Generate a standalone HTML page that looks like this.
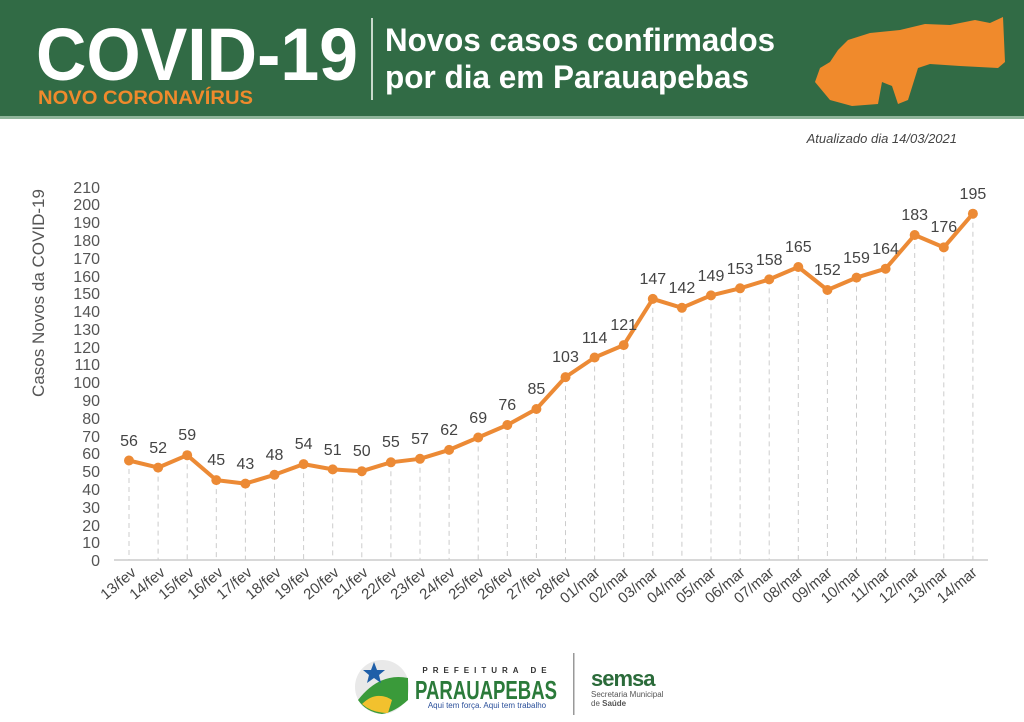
<!DOCTYPE html>
<html><head><meta charset="utf-8"><style>
html,body{margin:0;padding:0;background:#fff;width:1024px;height:722px;overflow:hidden;font-family:"Liberation Sans",sans-serif}
</style></head><body>
<svg width="1024" height="722" viewBox="0 0 1024 722" xmlns="http://www.w3.org/2000/svg" font-family="Liberation Sans, sans-serif">
<rect x="0" y="0" width="1024" height="118" fill="#316b45"/>
<rect x="0" y="116" width="1024" height="3" fill="#8fb59a"/>
<text x="36" y="80" font-size="74" font-weight="bold" fill="#fff" textLength="322" lengthAdjust="spacingAndGlyphs">COVID-19</text>
<text x="38" y="104" font-size="19" font-weight="bold" fill="#f08a2c" textLength="215" lengthAdjust="spacingAndGlyphs">NOVO CORONAVÍRUS</text>
<rect x="371" y="18" width="2" height="82" fill="#c9d9cc"/>
<text x="385" y="51" font-size="32" font-weight="bold" fill="#fff" textLength="390" lengthAdjust="spacingAndGlyphs">Novos casos confirmados</text>
<text x="385" y="88" font-size="32" font-weight="bold" fill="#fff" textLength="364" lengthAdjust="spacingAndGlyphs">por dia em Parauapebas</text>
<path d="M848 40 L870 33 L900 30 L925 24 L950 25 L975 20 L990 23 L1003 17 L1005 62 L998 68 L960 66 L930 64 L918 68 L908 100 L898 104 L892 86 L882 82 L878 104 L852 106 L830 100 L815 82 L820 68 L830 62 L838 50 Z" fill="#f08a2c"/>
<text x="957" y="143" font-size="13" font-style="italic" fill="#444" text-anchor="end">Atualizado dia 14/03/2021</text>
<text transform="translate(44,293) rotate(-90)" font-size="17" fill="#555" text-anchor="middle">Casos Novos da COVID-19</text>
<g font-size="16" fill="#555" text-anchor="end">
<text x="100" y="566">0</text><text x="100" y="548">10</text><text x="100" y="531">20</text><text x="100" y="513">30</text><text x="100" y="495">40</text><text x="100" y="477">50</text><text x="100" y="459">60</text><text x="100" y="442">70</text><text x="100" y="424">80</text><text x="100" y="406">90</text><text x="100" y="388">100</text><text x="100" y="370">110</text><text x="100" y="353">120</text><text x="100" y="335">130</text><text x="100" y="317">140</text><text x="100" y="299">150</text><text x="100" y="282">160</text><text x="100" y="264">170</text><text x="100" y="246">180</text><text x="100" y="228">190</text><text x="100" y="210">200</text><text x="100" y="193">210</text>
</g>
<line x1="114" y1="560" x2="988" y2="560" stroke="#ccc" stroke-width="1.5"/>
<g stroke="#ccc" stroke-dasharray="5,4" stroke-width="1">
<path d="M129 460V560M158.1 467.6V560M187.2 455.2V560M216.3 480.1V560M245.4 483.6V560M274.5 474.8V560M303.6 464.1V560M332.7 469.4V560M361.8 471.2V560M390.9 462.3V560M420 458.8V560M449.1 449.9V560M478.2 437.5V560M507.3 425V560M536.4 409V560M565.5 377.1V560M594.6 357.5V560M623.7 345.1V560M652.8 298.9V560M681.9 307.8V560M711 295.4V560M740.1 288.3V560M769.2 279.4V560M798.3 267V560M827.4 290V560M856.5 277.6V560M885.6 268.7V560M914.7 235V560M943.8 247.4V560M972.9 213.7V560"/>
</g>
<polyline fill="none" stroke="#ec8a35" stroke-width="4" stroke-linejoin="round" points="129,460.5 158.1,467.6 187.2,455.2 216.3,480.1 245.4,483.6 274.5,474.8 303.6,464.1 332.7,469.4 361.8,471.2 390.9,462.3 420,458.8 449.1,449.9 478.2,437.5 507.3,425 536.4,409 565.5,377.1 594.6,357.5 623.7,345.1 652.8,298.9 681.9,307.8 711,295.4 740.1,288.3 769.2,279.4 798.3,267 827.4,290 856.5,277.6 885.6,268.7 914.7,235 943.8,247.4 972.9,213.7"/>
<g fill="#ec8a35">
<circle cx="129" cy="460.5" r="5"/><circle cx="158.1" cy="467.6" r="5"/><circle cx="187.2" cy="455.2" r="5"/><circle cx="216.3" cy="480.1" r="5"/><circle cx="245.4" cy="483.6" r="5"/><circle cx="274.5" cy="474.8" r="5"/><circle cx="303.6" cy="464.1" r="5"/><circle cx="332.7" cy="469.4" r="5"/><circle cx="361.8" cy="471.2" r="5"/><circle cx="390.9" cy="462.3" r="5"/><circle cx="420" cy="458.8" r="5"/><circle cx="449.1" cy="449.9" r="5"/><circle cx="478.2" cy="437.5" r="5"/><circle cx="507.3" cy="425" r="5"/><circle cx="536.4" cy="409" r="5"/><circle cx="565.5" cy="377.1" r="5"/><circle cx="594.6" cy="357.5" r="5"/><circle cx="623.7" cy="345.1" r="5"/><circle cx="652.8" cy="298.9" r="5"/><circle cx="681.9" cy="307.8" r="5"/><circle cx="711" cy="295.4" r="5"/><circle cx="740.1" cy="288.3" r="5"/><circle cx="769.2" cy="279.4" r="5"/><circle cx="798.3" cy="267" r="5"/><circle cx="827.4" cy="290" r="5"/><circle cx="856.5" cy="277.6" r="5"/><circle cx="885.6" cy="268.7" r="5"/><circle cx="914.7" cy="235" r="5"/><circle cx="943.8" cy="247.4" r="5"/><circle cx="972.9" cy="213.7" r="5"/>
</g>
<g font-size="16" fill="#444" text-anchor="middle">
<text x="129" y="446">56</text><text x="158.1" y="453">52</text><text x="187.2" y="440">59</text><text x="216.3" y="465">45</text><text x="245.4" y="469">43</text><text x="274.5" y="460">48</text><text x="303.6" y="449">54</text><text x="332.7" y="455">51</text><text x="361.8" y="456">50</text><text x="390.9" y="447">55</text><text x="420" y="444">57</text><text x="449.1" y="435">62</text><text x="478.2" y="423">69</text><text x="507.3" y="410">76</text><text x="536.4" y="394">85</text><text x="565.5" y="362">103</text><text x="594.6" y="343">114</text><text x="623.7" y="330">121</text><text x="652.8" y="284">147</text><text x="681.9" y="293">142</text><text x="711" y="281">149</text><text x="740.1" y="274">153</text><text x="769.2" y="265">158</text><text x="798.3" y="252">165</text><text x="827.4" y="275">152</text><text x="856.5" y="263">159</text><text x="885.6" y="254">164</text><text x="914.7" y="220">183</text><text x="943.8" y="232">176</text><text x="972.9" y="199">195</text>
</g>
<g font-size="15" fill="#444" text-anchor="end">
<text transform="translate(137,574) rotate(-40)">13/fev</text><text transform="translate(166,574) rotate(-40)">14/fev</text><text transform="translate(195,574) rotate(-40)">15/fev</text><text transform="translate(224,574) rotate(-40)">16/fev</text><text transform="translate(253,574) rotate(-40)">17/fev</text><text transform="translate(282,574) rotate(-40)">18/fev</text><text transform="translate(311,574) rotate(-40)">19/fev</text><text transform="translate(340,574) rotate(-40)">20/fev</text><text transform="translate(369,574) rotate(-40)">21/fev</text><text transform="translate(398,574) rotate(-40)">22/fev</text><text transform="translate(427,574) rotate(-40)">23/fev</text><text transform="translate(456,574) rotate(-40)">24/fev</text><text transform="translate(485,574) rotate(-40)">25/fev</text><text transform="translate(514,574) rotate(-40)">26/fev</text><text transform="translate(543,574) rotate(-40)">27/fev</text><text transform="translate(572,574) rotate(-40)">28/fev</text><text transform="translate(601,574) rotate(-40)">01/mar</text><text transform="translate(630,574) rotate(-40)">02/mar</text><text transform="translate(659,574) rotate(-40)">03/mar</text><text transform="translate(688,574) rotate(-40)">04/mar</text><text transform="translate(717,574) rotate(-40)">05/mar</text><text transform="translate(746,574) rotate(-40)">06/mar</text><text transform="translate(775,574) rotate(-40)">07/mar</text><text transform="translate(804,574) rotate(-40)">08/mar</text><text transform="translate(833,574) rotate(-40)">09/mar</text><text transform="translate(862,574) rotate(-40)">10/mar</text><text transform="translate(891,574) rotate(-40)">11/mar</text><text transform="translate(920,574) rotate(-40)">12/mar</text><text transform="translate(949,574) rotate(-40)">13/mar</text><text transform="translate(978,574) rotate(-40)">14/mar</text>
</g>
<circle cx="382" cy="687" r="27" fill="#e9e9e9"/>
<path d="M358 700 Q380 672 408 678 L408 700 Q395 712 382 714 Q366 712 358 700Z" fill="#3a9a3a"/>
<path d="M362 704 Q376 690 392 700 L388 713 Q372 713 362 704Z" fill="#f2c12e"/>
<polygon points="374,662 377,670 385,670 379,675 381,683 374,678 367,683 369,675 363,670 371,670" fill="#1f5fa8"/>
<text x="487" y="673" font-size="8" font-weight="bold" fill="#333" text-anchor="middle" letter-spacing="5">PREFEITURA DE</text>
<text x="415" y="699" font-size="26" font-weight="bold" fill="#2b7a3a" textLength="142" lengthAdjust="spacingAndGlyphs">PARAUAPEBAS</text>
<text x="487" y="708" font-size="8" fill="#2a4f9a" text-anchor="middle">Aqui tem força. Aqui tem trabalho</text>
<rect x="573" y="653" width="1.5" height="62" fill="#999"/>
<text x="591" y="686" font-size="22" font-weight="bold" fill="#2b6b3a" letter-spacing="-1">semsa</text>
<text x="591" y="697" font-size="8" fill="#555">Secretaria Municipal</text>
<text x="591" y="706" font-size="8" fill="#555">de <tspan font-weight="bold">Saúde</tspan></text>
</svg>
</body></html>
